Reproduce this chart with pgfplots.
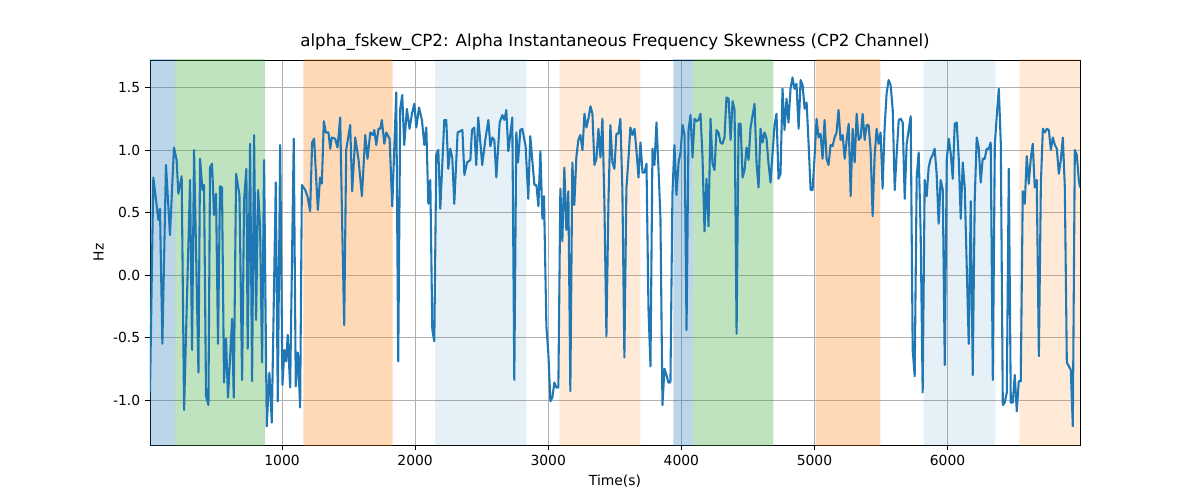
\documentclass[border=0pt]{standalone}
\usepackage{pgfplots}
\pgfplotsset{compat=1.18}
\usepackage{fontspec}
\setmainfont{DejaVu Sans}
\definecolor{tblue}{HTML}{1F77B4}
\definecolor{tgreen}{HTML}{2CA02C}
\definecolor{torange}{HTML}{FF7F0E}
\begin{document}
\begin{tikzpicture}
\path[use as bounding box] (-108pt,-39.6pt) rectangle (756pt,320.4pt);
\begin{axis}[
  at={(0,0)}, anchor=south west,
  scale only axis, width=669.6pt, height=277.2pt,
  xmin=8, xmax=6995, ymin=-1.36, ymax=1.72,
  xtick={1000,2000,3000,4000,5000,6000},
  ytick={-1,-0.5,0,0.5,1,1.5},
  xtick pos=bottom, ytick pos=left,
  /pgf/number format/assume math mode=true,
  yticklabel style={/pgf/number format/.cd, fixed, fixed zerofill, precision=1},
  ticklabel style={font=\fontsize{10}{12}\selectfont},
  xticklabel style={/pgf/number format/set thousands separator={}},
  grid=major, grid style={color=black!31, line width=0.6pt},
  tick align=outside, tick style={black, line width=0.6pt},
  major tick length=3.5pt,
  axis line style={line width=0.6pt},
  xlabel={Time(s)}, ylabel={Hz},
  label style={font=\fontsize{10}{12}\selectfont},
  title={alpha\_fskew\_CP2: Alpha Instantaneous Frequency Skewness (CP2 Channel)},
  title style={font=\fontsize{12}{14}\selectfont, yshift=-3pt},
]
\addplot[fill=tblue, fill opacity=0.3, draw=none] coordinates {(8,-2) (196,-2) (196,2) (8,2)} \closedcycle;
\addplot[fill=tgreen, fill opacity=0.3, draw=none] coordinates {(196,-2) (873,-2) (873,2) (196,2)} \closedcycle;
\addplot[fill=torange, fill opacity=0.3, draw=none] coordinates {(1160,-2) (1830,-2) (1830,2) (1160,2)} \closedcycle;
\addplot[fill=tblue, fill opacity=0.11, draw=none] coordinates {(2150,-2) (2835,-2) (2835,2) (2150,2)} \closedcycle;
\addplot[fill=torange, fill opacity=0.16, draw=none] coordinates {(3083,-2) (3692,-2) (3692,2) (3083,2)} \closedcycle;
\addplot[fill=tblue, fill opacity=0.3, draw=none] coordinates {(3940,-2) (4090,-2) (4090,2) (3940,2)} \closedcycle;
\addplot[fill=tgreen, fill opacity=0.3, draw=none] coordinates {(4090,-2) (4692,-2) (4692,2) (4090,2)} \closedcycle;
\addplot[fill=torange, fill opacity=0.3, draw=none] coordinates {(5008,-2) (5496,-2) (5496,2) (5008,2)} \closedcycle;
\addplot[fill=tblue, fill opacity=0.11, draw=none] coordinates {(5820,-2) (6360,-2) (6360,2) (5820,2)} \closedcycle;
\addplot[fill=torange, fill opacity=0.16, draw=none] coordinates {(6540,-2) (7100,-2) (7100,2) (6540,2)} \closedcycle;
\addplot[color=tblue, line width=1.5pt, line join=round] coordinates {
(8,-0.94)(33,0.78)(71,0.44)(83,0.53)(101,-0.55)(128,0.88)(158,0.32)(188,1.02)(208,0.92)(221,0.65)(246,0.79)(264,-1.08)
(309,0.76)(324,-0.60)(339,1.0)(372,-0.78)(384,0.93)(402,0.68)(414,0.72)(429,-0.97)(447,-1.04)(459,0.86)(474,0.89)
(489,0.48)(504,0.65)(519,-0.55)(534,0.71)(549,0.70)(564,-0.86)(579,-0.51)(594,-0.98)(625,-0.35)(637,-0.98)(655,0.81)
(680,0.64)(700,-0.84)(715,0.60)(732,0.85)(742,-0.59)(760,1.05)(775,-0.85)(790,1.12)(805,-0.36)(820,0.68)(835,0.39)
(850,-0.70)(865,0.92)(885,-1.21)(905,-0.78)(923,-1.18)(953,0.74)(968,-1.01)(986,1.04)(1003,-0.88)(1018,-0.60)
(1031,-0.69)(1043,-0.48)(1061,-0.90)(1088,1.09)(1103,-0.89)(1119,-0.62)(1136,-1.06)(1149,0.72)(1174,0.68)(1191,0.63)
(1211,0.51)(1226,1.06)(1241,1.09)(1269,0.52)(1286,0.78)(1299,0.73)(1314,1.23)(1329,1.14)(1349,1.14)(1362,1.01)
(1374,1.10)(1399,1.09)(1417,1.02)(1437,1.26)(1452,0.39)(1467,-0.40)(1482,1.0)(1512,1.20)(1527,0.67)(1550,1.10)
(1575,0.92)(1600,0.63)(1625,1.12)(1642,0.93)(1663,1.14)(1683,1.12)(1693,1.16)(1708,1.04)(1725,1.17)(1738,1.17)
(1750,1.24)(1768,1.05)(1783,1.14)(1808,1.09)(1828,0.55)(1858,1.46)(1873,-0.69)(1888,1.33)(1903,1.44)(1918,1.04)
(1938,1.33)(1958,1.17)(1976,1.29)(1994,1.37)(2009,1.18)(2029,1.34)(2051,1.24)(2069,1.04)(2084,1.18)(2099,0.57)
(2114,0.76)(2129,-0.44)(2144,-0.53)(2159,0.97)(2174,1.0)(2189,0.53)(2219,1.24)(2234,1.24)(2249,0.85)(2264,1.01)
(2279,0.94)(2294,0.57)(2319,1.14)(2355,1.16)(2370,0.80)(2390,0.90)(2415,0.92)(2427,1.16)(2444,1.18)(2459,0.88)
(2474,1.26)(2504,0.88)(2527,1.08)(2550,1.24)(2565,1.03)(2580,1.10)(2595,1.08)(2610,0.78)(2635,1.22)(2655,1.28)
(2670,1.24)(2685,1.32)(2700,0.99)(2730,1.26)(2745,-0.84)(2760,1.14)(2773,0.90)(2790,1.16)(2805,1.17)(2830,1.03)
(2850,0.61)(2865,1.11)(2896,0.72)(2911,0.72)(2926,0.55)(2941,0.99)(2956,0.45)(2968,0.63)(2986,-0.41)(3001,-0.63)
(3016,-1.01)(3031,-0.98)(3046,-0.86)(3061,-0.90)(3076,-0.90)(3091,0.69)(3106,0.27)(3121,0.86)(3136,0.36)(3151,0.67)
(3166,-0.93)(3181,0.90)(3196,0.56)(3211,0.94)(3226,1.08)(3241,1.12)(3257,1.0)(3272,1.29)(3287,1.18)(3302,1.25)
(3317,1.35)(3332,1.29)(3347,0.88)(3362,0.93)(3377,1.17)(3392,0.94)(3407,1.25)(3422,0.57)(3437,-0.49)(3452,0.57)
(3467,1.20)(3482,0.90)(3497,0.85)(3512,1.13)(3527,1.13)(3542,1.25)(3557,0.68)(3572,-0.66)(3587,0.69)(3602,0.92)
(3617,1.18)(3632,1.12)(3648,1.17)(3663,0.99)(3678,0.78)(3693,1.06)(3708,0.82)(3723,0.82)(3738,0.89)(3753,-0.27)
(3768,-0.73)(3783,1.01)(3798,0.88)(3813,1.22)(3828,0.86)(3843,0.45)(3858,-1.04)(3873,-0.75)(3888,-0.80)(3903,-0.86)
(3918,-0.86)(3933,0.65)(3948,1.04)(3963,0.64)(3979,0.90)(3994,0.98)(4009,1.20)(4024,1.12)(4039,-0.44)(4054,1.16)
(4069,1.28)(4084,0.94)(4099,1.25)(4114,1.23)(4129,1.24)(4144,1.29)(4159,0.94)(4174,0.35)(4189,0.77)(4204,0.39)
(4219,1.25)(4234,0.89)(4249,0.84)(4264,1.16)(4279,1.14)(4294,1.06)(4309,1.05)(4324,1.10)(4339,1.42)(4355,1.41)
(4370,1.08)(4385,1.39)(4400,1.32)(4415,-0.47)(4430,1.21)(4445,1.21)(4460,0.78)(4475,0.84)(4490,1.02)(4505,0.92)
(4520,1.18)(4550,1.37)(4565,0.89)(4580,0.70)(4595,1.17)(4610,1.06)(4625,1.14)(4640,1.09)(4655,0.89)(4670,0.74)
(4685,0.97)(4700,1.20)(4715,1.29)(4730,0.77)(4745,0.81)(4760,1.49)(4775,1.16)(4790,1.41)(4805,1.22)(4820,1.49)
(4835,1.58)(4850,1.49)(4865,1.53)(4881,1.17)(4896,1.56)(4911,1.52)(4926,1.33)(4941,1.38)(4956,1.05)(4971,0.68)
(4986,0.68)(5001,0.95)(5016,1.25)(5031,1.10)(5046,1.13)(5061,0.93)(5076,1.24)(5091,0.93)(5106,0.88)(5121,1.04)
(5136,1.03)(5151,1.10)(5166,1.14)(5181,1.32)(5196,1.08)(5212,1.12)(5227,0.93)(5242,1.08)(5257,1.21)(5272,0.63)
(5287,1.17)(5302,0.90)(5317,1.29)(5332,1.08)(5347,1.10)(5362,1.29)(5377,1.08)(5392,1.20)(5407,1.20)(5422,1.0)
(5437,0.47)(5452,0.95)(5467,1.17)(5482,1.05)(5497,1.14)(5512,0.69)(5527,1.18)(5542,1.45)(5557,1.56)(5572,1.52)
(5588,1.32)(5603,0.68)(5618,0.97)(5633,1.24)(5648,1.25)(5663,1.22)(5678,0.61)(5693,1.05)(5708,1.16)(5723,1.27)
(5738,-0.60)(5753,-0.81)(5768,0.78)(5783,0.98)(5798,0.33)(5813,-0.94)(5828,0.76)(5843,0.63)(5858,0.86)(5873,0.93)
(5888,0.96)(5903,1.01)(5918,0.81)(5933,0.41)(5948,0.76)(5964,0.68)(5979,-0.72)(5994,0.92)(6009,1.09)(6024,0.97)
(6039,0.77)(6054,1.21)(6069,1.22)(6084,0.93)(6099,0.45)(6114,0.90)(6129,0.70)(6144,0.07)(6159,-0.55)(6174,0.59)
(6189,-0.80)(6204,0.60)(6219,1.10)(6234,1.02)(6249,0.74)(6264,0.93)(6279,0.93)(6294,1.01)(6309,1.01)(6324,1.06)
(6340,-0.84)(6355,1.04)(6370,1.28)(6385,1.49)(6400,1.05)(6415,-1.04)(6430,-1.02)(6445,-0.94)(6460,0.85)(6475,-1.02)
(6490,-1.02)(6505,-0.80)(6520,-1.09)(6535,-0.85)(6550,-0.85)(6565,0.67)(6580,0.57)(6595,0.95)(6610,0.73)(6625,0.93)
(6640,1.05)(6655,0.70)(6670,0.76)(6686,-0.65)(6701,0.73)(6716,1.17)(6731,1.14)(6746,1.17)(6761,1.16)(6776,1.0)
(6791,1.10)(6806,1.04)(6821,1.01)(6836,0.81)(6851,0.92)(6866,1.10)(6881,0.70)(6896,-0.70)(6911,-0.73)(6926,-0.76)
(6941,-1.21)(6956,1.0)(6971,0.96)(6986,0.76)(6995,0.70)
};
\end{axis}
\end{tikzpicture}
\end{document}
